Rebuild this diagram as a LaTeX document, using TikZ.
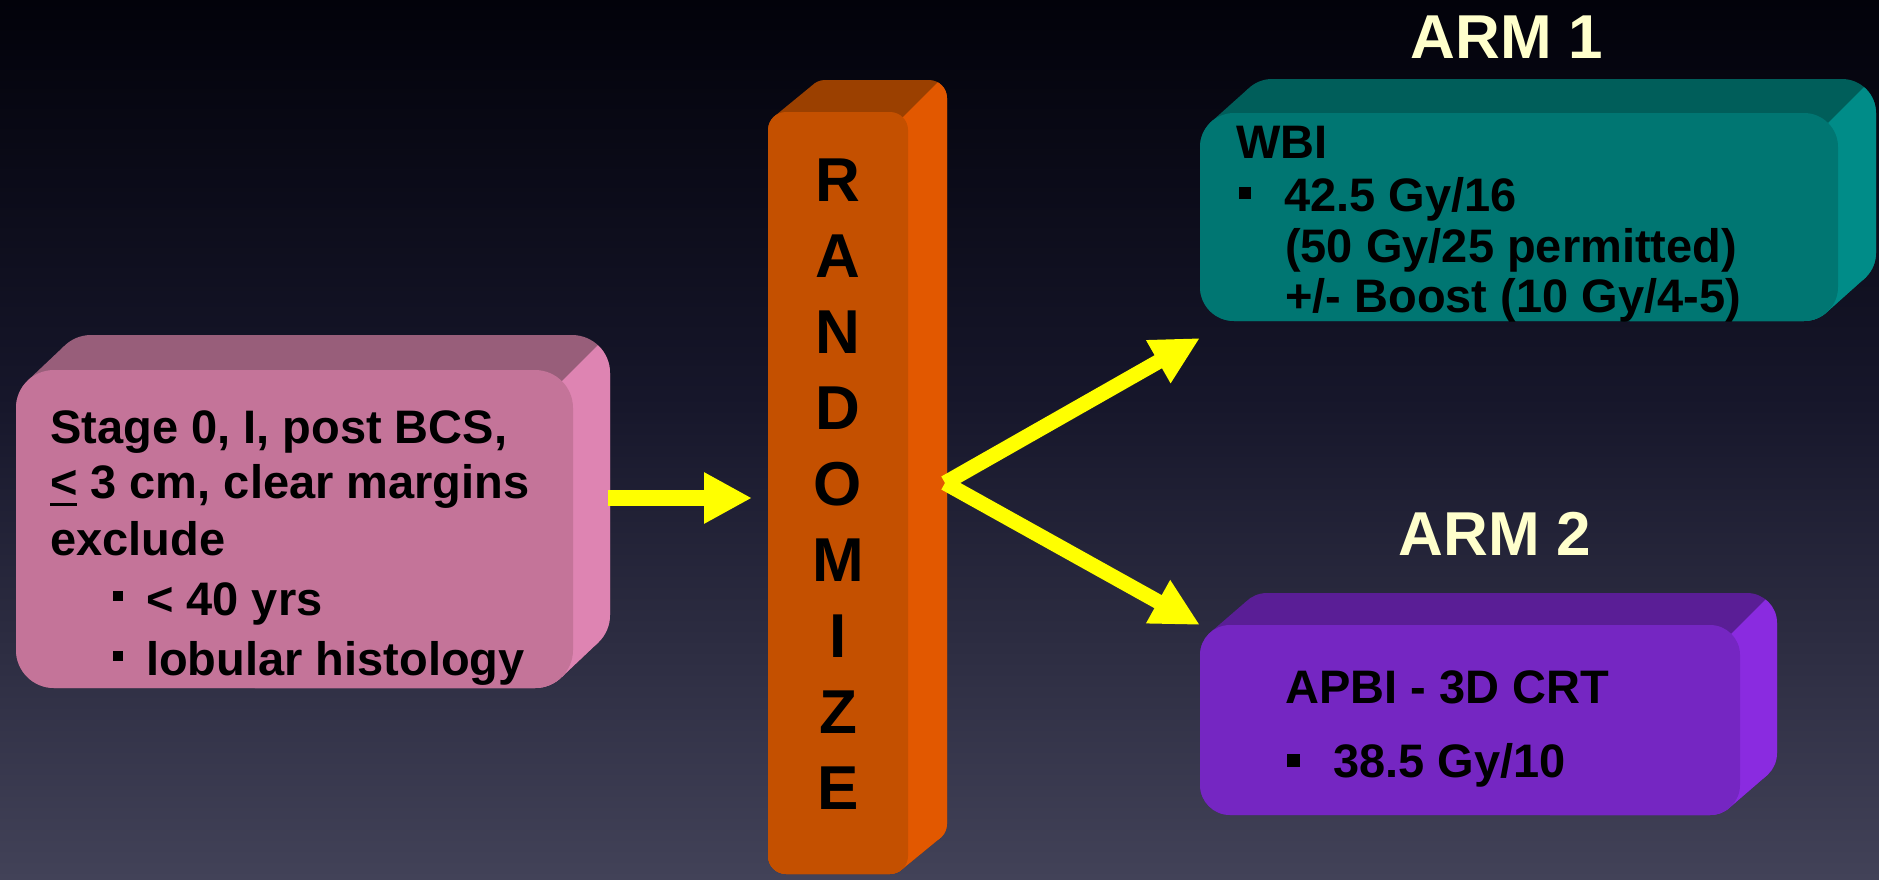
\documentclass[tikz,border=0pt]{standalone}
\usepackage{fontspec}
\setmainfont{Liberation Sans}
\usetikzlibrary{arrows.meta,calc}

% background (the path is fitted to the 25bp..75bp band of the shading)
\definecolor{bgtop}{RGB}{2,2,10}
\definecolor{bgmid}{RGB}{22,22,42}
\definecolor{bgbot}{RGB}{66,66,88}
\pgfdeclareverticalshading{bgshade}{100bp}{color(0bp)=(bgbot); color(25bp)=(bgbot); color(52.5bp)=(bgmid); color(75bp)=(bgtop); color(100bp)=(bgtop)}

% box colours: top face, right side face, front face
\definecolor{pktop}{RGB}{152,94,122}
\definecolor{pkside}{RGB}{222,132,178}
\definecolor{pkfront}{RGB}{196,116,153}
\definecolor{ortop}{RGB}{155,64,0}
\definecolor{orside}{RGB}{226,88,0}
\definecolor{orfront}{RGB}{196,80,0}
\definecolor{tltop}{RGB}{0,94,90}
\definecolor{tlside}{RGB}{0,140,136}
\definecolor{tlfront}{RGB}{0,118,114}
\definecolor{pptop}{RGB}{90,30,150}
\definecolor{ppside}{RGB}{138,43,224}
\definecolor{ppfront}{RGB}{117,38,194}
\definecolor{armcream}{RGB}{255,255,204}
\definecolor{arrowyellow}{RGB}{255,255,0}

% extruded part of a slab: #1..#4 front face, #5,#6 depth offset, #7 corner radius, #8 colour prefix
\newcommand\slab[8]{%
  \fill[#8top,rounded corners=#7pt] (#1,#2) rectangle (#3,#4);
  \fill[#8top,rounded corners=#7pt] ({#1+#5},{#2+#6}) rectangle ({#3+#5},{#4+#6});
  \fill[#8top] ({#1+0.2929*#7},{#2+0.2929*#7}) -- ++(#5,#6)
     -- ({#3-0.2929*#7+#5},{#4-0.2929*#7+#6}) -- ({#3-0.2929*#7},{#4-0.2929*#7}) -- cycle;
  \begin{scope}
    \clip ({#3-0.2929*#7},{#2+0.2929*#7}) ++(-1000,1000) -- ++(2000,-2000) -- ++(0,2000) -- cycle;
    \fill[#8side,rounded corners=#7pt] (#1,#2) rectangle (#3,#4);
    \fill[#8side,rounded corners=#7pt] ({#1+#5},{#2+#6}) rectangle ({#3+#5},{#4+#6});
    \fill[#8side] ({#1+0.2929*#7},{#2+0.2929*#7}) -- ++(#5,#6)
       -- ({#3-0.2929*#7+#5},{#4-0.2929*#7+#6}) -- ({#3-0.2929*#7},{#4-0.2929*#7}) -- cycle;
  \end{scope}
}
% small square bullet: side, raise
\newcommand\sqb[2]{\rule[#2]{#1}{#1}}

\begin{document}
\begin{tikzpicture}[x=1pt,y=-1pt,
  face/.style={inner sep=0pt,outer sep=0pt,anchor=north west},
  txt/.style={font=\bfseries\fontsize{47}{56}\selectfont,text=black,inner sep=0pt,anchor=base west},
  armlbl/.style={font=\bfseries\fontsize{62}{70}\selectfont,text=armcream,inner sep=0pt,anchor=base},
  rletter/.style={font=\bfseries\fontsize{62}{70}\selectfont,text=black,inner sep=0pt},
  flow/.style={draw=arrowyellow,line width=16pt,-{Triangle[length=48pt,width=48pt]}},
  flowd/.style={draw=arrowyellow,line width=15pt,-{Triangle[length=48pt,width=46pt]}}]

\useasboundingbox (0,0) rectangle (1879,879);
\shade[shading=bgshade] (0,0) rectangle (1879,879);

% eligibility slab
\slab{16}{370}{573}{688}{37}{-35}{38}{pk}
\node[face,fill=pkfront,rounded corners=38pt,minimum width=557pt,minimum height=318pt] (pinkbox) at (16,370) {};
\node[txt] (p1) at (50,443) {Stage 0, I, post BCS,};
\node[txt] (p2) at (50,498) {\makebox[0pt][l]{\rule[-8pt]{27pt}{3pt}}< 3 cm, clear margins};
\node[txt] (p3) at (50,555) {exclude};
\node[txt] (p4) at (113,615) {\sqb{10pt}{14pt}\hspace{23pt}< 40 yrs};
\node[txt] (p5) at (113,675) {\sqb{10pt}{14pt}\hspace{23pt}lobular histology};

% randomisation column
\slab{768}{112}{908}{874}{39}{-32}{18}{or}
\node[face,fill=orfront,rounded corners=18pt,minimum width=140pt,minimum height=762pt] (randbox) at (768,112) {};
\foreach \ch [count=\i from 0] in {R,A,N,D,O,M,I,Z,E}
  \node[rletter] (rl\i) at (838,{180+76*\i}) {\ch};

% arm 1
\node[armlbl] (arm1) at (1507,58) {ARM 1};
\slab{1200}{113}{1838}{321}{38}{-34}{34}{tl}
\node[face,fill=tlfront,rounded corners=34pt,minimum width=638pt,minimum height=208pt] (tealbox) at (1200,113) {};
\node[txt] (t1) at (1236,158) {WBI};
\node[txt] (t2) at (1239,211) {\sqb{12pt}{12pt}\hspace{33pt}42.5 Gy/16};
\node[txt] (t3) at (1285,262) {(50 Gy/25 permitted)};
\node[txt] (t4) at (1285,312) {+/- Boost (10 Gy/4-5)};

% arm 2
\node[armlbl] (arm2) at (1495,555) {ARM 2};
\slab{1200}{625}{1740}{815}{37}{-32}{30}{pp}
\node[face,fill=ppfront,rounded corners=30pt,minimum width=540pt,minimum height=190pt] (purplebox) at (1200,625) {};
\node[txt] (u1) at (1285,703) {APBI - 3D CRT};
\node[txt] (u2) at (1287,777) {\sqb{13pt}{10pt}\hspace{33pt}38.5 Gy/10};

% connectors
\draw[flow] ($(pinkbox.east)+(35,-31)$) -- ($(randbox.west)+(-16,5)$);
\coordinate (split) at ($(randbox.east)+(37,-10)$);
\draw[flowd] (split) -- ($(tealbox.south west)+(0,17)$);
\draw[flowd] (split) -- (purplebox.north west);
\end{tikzpicture}
\end{document}
